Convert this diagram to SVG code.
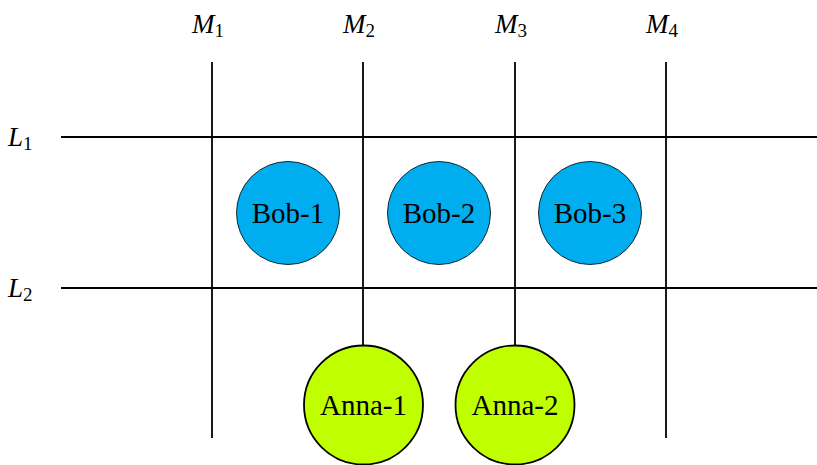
<svg xmlns="http://www.w3.org/2000/svg" width="817" height="465" viewBox="0 0 817 465">
<style>
.ln{stroke:#000;stroke-width:1.8;fill:none}
.bob{fill:#00AEEF;stroke:#000;stroke-width:0.8}
.anna{fill:#BFFF00;stroke:#000;stroke-width:1.8}
.t{font-family:"Liberation Serif","Times New Roman",serif;font-size:29px;text-anchor:middle;fill:#000}
.lab{font-family:"Liberation Serif","Times New Roman",serif;font-size:27px;font-style:italic;fill:#000}
.sub{font-size:19px;font-style:normal}
</style>
<rect width="817" height="465" fill="#fff"/>
<g id="connectors">
<line class="ln" x1="61" y1="137" x2="817" y2="137"/>
<line class="ln" x1="61" y1="288" x2="817" y2="288"/>
<line class="ln" x1="212" y1="62" x2="212" y2="438"/>
<line class="ln" x1="363" y1="62" x2="363" y2="346"/>
<line class="ln" x1="515" y1="62" x2="515" y2="346"/>
<line class="ln" x1="666" y1="62" x2="666" y2="438"/>
</g>
<g id="M1"><text class="lab" x="192" y="33">M<tspan class="sub" dy="4">1</tspan></text></g>
<g id="M2"><text class="lab" x="343" y="33">M<tspan class="sub" dy="4">2</tspan></text></g>
<g id="M3"><text class="lab" x="495" y="33">M<tspan class="sub" dy="4">3</tspan></text></g>
<g id="M4"><text class="lab" x="646" y="33">M<tspan class="sub" dy="4">4</tspan></text></g>
<g id="L1"><text class="lab" x="8" y="146">L<tspan class="sub" dy="4">1</tspan></text></g>
<g id="L2"><text class="lab" x="8" y="297">L<tspan class="sub" dy="4">2</tspan></text></g>
<g id="Bob-1"><circle class="bob" cx="288" cy="213" r="51.5"/><text class="t" x="288" y="223">Bob-1</text></g>
<g id="Bob-2"><circle class="bob" cx="439" cy="213" r="51.5"/><text class="t" x="439" y="223">Bob-2</text></g>
<g id="Bob-3"><circle class="bob" cx="590" cy="213" r="51.5"/><text class="t" x="590" y="223">Bob-3</text></g>
<g id="Anna-1"><circle class="anna" cx="363.5" cy="405" r="59.5"/><text class="t" x="363.5" y="415">Anna-1</text></g>
<g id="Anna-2"><circle class="anna" cx="515" cy="405" r="59.5"/><text class="t" x="515" y="415">Anna-2</text></g>
</svg>
